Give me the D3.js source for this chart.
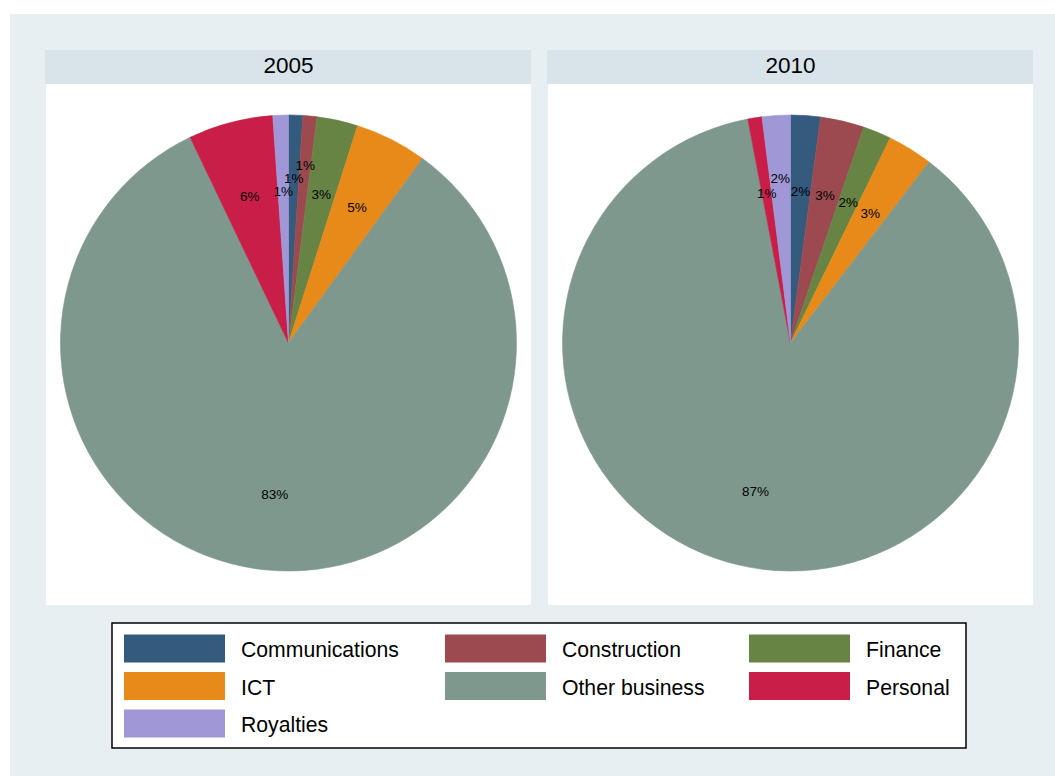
<!DOCTYPE html>
<html>
<head>
<meta charset="utf-8">
<script src="https://cdn.jsdelivr.net/npm/d3@7"></script>
<style>
  html, body { margin: 0; padding: 0; background: #ffffff; }
  svg { display: block; font-family: "Liberation Sans", Arial, Helvetica, sans-serif; }
</style>
</head>
<body>
<svg id="chart" width="1055" height="776"></svg>
<script>
// ---- data ----
const categories = ["Communications", "Construction", "Finance", "ICT", "Other business", "Personal", "Royalties"];
const years = ["2005", "2010"];
const values2005 = [1.0, 1.0, 2.9, 5.1, 82.9, 6.0, 1.1];
const values2010 = [2.1, 3.1, 2.0, 3.2, 86.6, 1.0, 2.0];
const seriesValues = [values2005, values2010];
const colors = ["#345a7e", "#9c4a50", "#678444", "#e78a1a", "#7e988d", "#c81e48", "#a098d6"];

// ---- layout ----
const svg = d3.select("#chart");
svg.append("rect").attr("x", 10).attr("y", 14).attr("width", 1045).attr("height", 762).attr("fill", "#e8eff2");

const panelX = d3.scaleBand().domain(years).range([46, 1033]).paddingInner(0.034);
const color = d3.scaleOrdinal().domain(categories).range(colors);
const panelTop = 84, panelBottom = 605, headerTop = 50;
const radius = 228;
const labelFont = 13.5;

years.forEach((yr, i) => {
  const x0 = panelX(yr), w = panelX.bandwidth();
  svg.append("rect").attr("x", x0 - 1).attr("y", headerTop).attr("width", w + 1).attr("height", panelTop - headerTop).attr("fill", "#d8e4e9");
  svg.append("rect").attr("x", x0).attr("y", panelTop).attr("width", w).attr("height", panelBottom - panelTop).attr("fill", "#ffffff");
  svg.append("text").attr("x", x0 + w / 2).attr("y", 73).attr("text-anchor", "middle")
    .attr("font-size", 22.5).attr("fill", "#000").text(yr);

  const cx = x0 + w / 2, cy = (panelTop + panelBottom) / 2 - 1.5;
  const data = categories.map((c, k) => ({ cat: c, value: seriesValues[i][k] }));
  const total = d3.sum(data, d => d.value);
  const pie = d3.pie().value(d => d.value).sort(null).startAngle(0).endAngle(2 * Math.PI);
  const arcs = pie(data);
  const arc = d3.arc().innerRadius(0).outerRadius(radius);
  const g = svg.append("g").attr("transform", `translate(${cx},${cy})`);
  g.selectAll("path").data(arcs).join("path")
    .attr("d", arc)
    .attr("fill", d => color(d.data.cat))
    .attr("stroke", d => color(d.data.cat))
    .attr("stroke-width", 0.6);

  // labels at 2/3 radius, nudged outward greedily (largest slices first) to avoid overlap
  const labels = g.selectAll("text.lab").data(arcs).join("text")
    .attr("class", "lab")
    .attr("text-anchor", "middle")
    .attr("dy", "0.35em")
    .attr("font-size", labelFont)
    .attr("fill", "#000")
    .text(d => Math.round(d.data.value / total * 100) + "%");
  const nodes = labels.nodes();
  const order = arcs.map((a, k) => k).sort((a, b) => arcs[b].data.value - arcs[a].data.value);
  const placed = [];
  order.forEach(k => {
    const a = arcs[k];
    const mid = (a.startAngle + a.endAngle) / 2;
    const tw = nodes[k].getComputedTextLength() + 1.5;
    const th = 13;
    let d = radius * 2 / 3;
    let px, py;
    for (let it = 0; it < 200; it++) {
      px = Math.sin(mid) * d; py = -Math.cos(mid) * d;
      const hit = placed.some(p => Math.abs(p.x - px) < (p.w + tw) / 2 && Math.abs(p.y - py) < th);
      if (!hit) break;
      d += 1;
    }
    placed.push({ x: px, y: py, w: tw });
    d3.select(nodes[k]).attr("x", px).attr("y", py);
  });
});

// ---- legend ----
const legX = 112, legY = 623, legW = 854, legH = 125;
svg.append("rect").attr("x", legX).attr("y", legY).attr("width", legW).attr("height", legH)
  .attr("fill", "#ffffff").attr("stroke", "#000").attr("stroke-width", 1.5);
const colX = [124, 445, 749];
const rowY = d3.scaleLinear().domain([0, 1]).range([634.5, 672]);
categories.forEach((c, k) => {
  const col = k % 3, row = Math.floor(k / 3);
  const sx = colX[col], sy = rowY(row);
  svg.append("rect").attr("x", sx).attr("y", sy).attr("width", 101).attr("height", 28).attr("fill", color(c));
  svg.append("text").attr("x", sx + 117).attr("y", sy + 22.5).attr("font-size", 21.2).attr("fill", "#000").text(c);
});
</script>
</body>
</html>
